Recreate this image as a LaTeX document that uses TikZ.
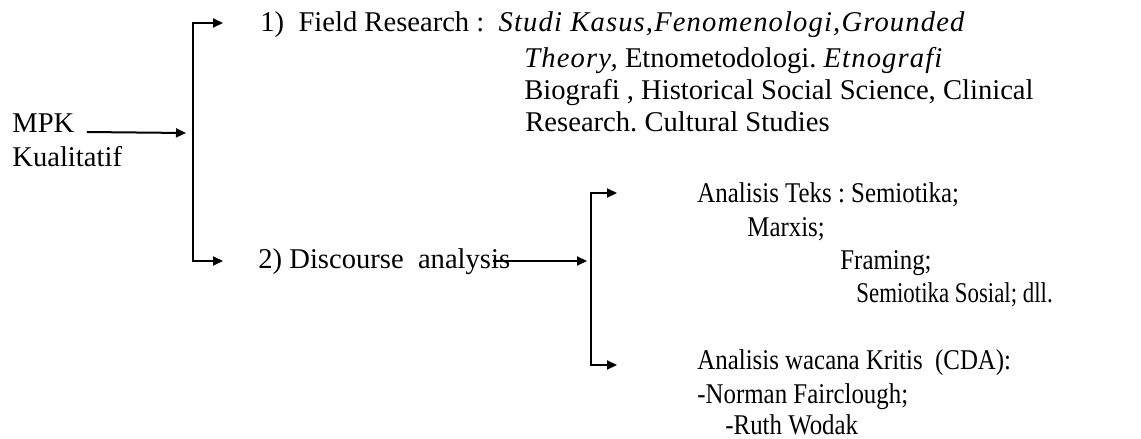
\documentclass[tikz,border=0pt]{standalone}
\usepackage{fontspec}
\setmainfont{Liberation Serif}
\newfontfamily\narrowfont{Liberation Serif}[FakeStretch=0.87]
\newfontfamily\tightfont{Liberation Serif}[FakeStretch=0.80]
\newcommand\spacedit[1]{{\itshape\addfontfeatures{LetterSpace=4}#1}}
\usetikzlibrary{arrows.meta}
\begin{document}
\begin{tikzpicture}[x=0.5pt,y=0.5pt,yscale=-1,xscale=1,
  txt/.style={anchor=base west,inner sep=0pt,font=\fontsize{14.3}{16.5}\selectfont\frenchspacing},
  ntxt/.style={txt,font=\narrowfont\fontsize{14.3}{16.5}\selectfont\frenchspacing},
  arr/.style={line width=1pt,-{Triangle[length=5pt,width=4.5pt]}},
  brk/.style={line width=1pt,{Triangle[length=5pt,width=4.5pt]}-{Triangle[length=5pt,width=4.5pt]}}]
    \useasboundingbox (0,0) rectangle (1141,439);
    % Text Node
    \draw (12,132) node (mpk) [txt] {MPK};
    % Text Node
    \draw (12,166) node (kual) [txt] {Kualitatif};
    % Text Node
    \draw (260,32) node (f1) [txt] {1)~~Field Research :~~\spacedit{Studi Kasus,Fenomenologi,Grounded}};
    % Text Node
    \draw (524,67) node (f2) [txt] {\spacedit{Theory,} Etnometodologi. \spacedit{Etnografi}};
    % Text Node
    \draw (524,99) node (f3) [txt] {Biografi , Historical Social Science, Clinical};
    % Text Node
    \draw (525,131) node (f4) [txt] {Research. Cultural Studies};
    % Text Node
    \draw (258,268) node (d2) [txt] {2) Discourse~~analysis};
    % Text Node
    \draw (697,202) node (t1) [ntxt] {Analisis Teks : Semiotika;};
    % Text Node
    \draw (747,236) node (t2) [ntxt] {Marxis;};
    % Text Node
    \draw (840,269) node (t3) [ntxt] {Framing;};
    % Text Node
    \draw (856,302) node (t4) [ntxt,font=\tightfont\fontsize{14.3}{16.5}\selectfont] {Semiotika Sosial; dll.};
    % Text Node
    \draw (697,369) node (c1) [ntxt] {Analisis wacana Kritis~~(CDA):};
    % Text Node
    \draw (697,403) node (c2) [ntxt] {-Norman Fairclough;};
    % Text Node
    \draw (725,434) node (c3) [ntxt] {-Ruth Wodak};
    %Bracket points
    \coordinate (b1top) at (193,23);
    \coordinate (b1bot) at (193,261);
    \coordinate (b1in) at (186,133);
    \coordinate (b2top) at (591,193);
    \coordinate (b2bot) at (591,365);
    \coordinate (b2in) at (587,261);
    \coordinate (d2out) at (493,261);
    %Straight Lines
    \draw [arr] ([xshift=6pt]mpk.base east) -- (b1in);
    \draw [brk] ([xshift=15pt]b1top) -- (b1top) -- (b1bot) -- ([xshift=15pt]b1bot);
    %Straight Lines
    \draw [arr] (d2out) -- (b2in);
    \draw [brk] ([xshift=13pt]b2top) -- (b2top) -- (b2bot) -- ([xshift=13pt]b2bot);
\end{tikzpicture}
\end{document}
